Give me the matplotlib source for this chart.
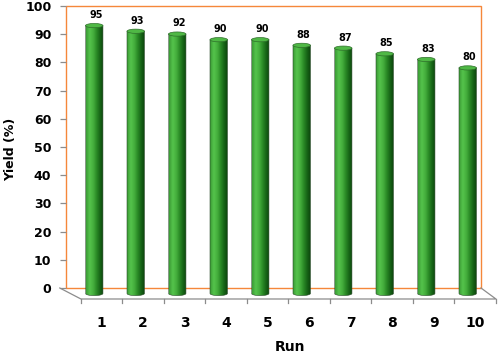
import numpy as np
import matplotlib
matplotlib.use("Agg")
import matplotlib.pyplot as plt
from matplotlib.patches import Rectangle, Ellipse, PathPatch
from matplotlib.path import Path
from matplotlib.colors import LinearSegmentedColormap

runs = [1, 2, 3, 4, 5, 6, 7, 8, 9, 10]
yields = [95, 93, 92, 90, 90, 88, 87, 85, 83, 80]
yticks = [0, 10, 20, 30, 40, 50, 60, 70, 80, 90, 100]

# depth of the 3d floor in data units (x, y) and bar size
depth = (0.36, -3.9)
bw = 0.42
eh = 1.5
ymin = -16

fig = plt.figure(figsize=(4.98, 3.57), dpi=100)
# wall spans 66..481 px horizontally, 6..288 px vertically (0..100)
ppu = 282 / 100
ax = fig.add_axes([66/498, (357 - 288 + ymin*ppu)/357, 415/498, (100 - ymin)*ppu/357])
ax.set_xlim(0.5, 10.5)
ax.set_ylim(ymin, 100)
for s in ax.spines.values():
    s.set_visible(False)

orange = "#f5873a"
grey = "#8c8c8c"

# back wall
ax.add_patch(Rectangle((0.5, 0), 10, 100, fill=False, ec=orange, lw=1.0, clip_on=False, zorder=1))

# floor
fx = [0.5 - 0.15, 0.5 + depth[0], 10.5 + depth[0], 10.5]
fy = [0, depth[1], depth[1], 0]
ax.plot(fx, fy, color=grey, lw=0.9, clip_on=False, zorder=1)
for k in range(11):
    x = 0.5 + k + depth[0]
    ax.plot([x, x], [depth[1], depth[1] - 1.5], color=grey, lw=0.9, clip_on=False, zorder=1)

cmap = LinearSegmentedColormap.from_list("cyl", ["#3a9a34", "#55c44c", "#46b03e", "#2a8a26", "#166316", "#0b420b"])
grad = np.linspace(0, 1, 64).reshape(1, -1)

t = np.linspace(np.pi, 2*np.pi, 30)
for r, v in zip(runs, yields):
    cx = r + depth[0] / 2
    y0 = depth[1] / 2
    y1 = v + depth[1] / 2
    # outline: bottom half-ellipse then straight sides
    xs = list(cx + bw/2*np.cos(t)) + [cx + bw/2, cx - bw/2, cx - bw/2]
    ys = list(y0 + eh/2*np.sin(t)) + [y1, y1, y0]
    path = Path(np.column_stack([xs, ys]))
    outline = PathPatch(path, fc="none", ec="#2b4a2b", lw=0.4, zorder=3)
    ax.add_patch(outline)
    im = ax.imshow(grad, cmap=cmap, aspect="auto", extent=(cx - bw/2, cx + bw/2, y0 - eh, y1),
                   zorder=2, interpolation="bicubic")
    im.set_clip_path(outline)
    ax.add_patch(Ellipse((cx, y1), bw, eh, fc="#4fb845", ec="#2f6f2b", lw=0.5, zorder=4, clip_on=False))
    ax.text(r + 0.22, v + 1.8, str(v), ha="center", va="center", fontsize=7, fontweight="bold", zorder=5)
    ax.text(r + depth[0], -12.4, str(r), ha="center", va="center", fontsize=10, fontweight="bold")

ax.set_xticks([])
ax.set_yticks(yticks)
ax.set_yticklabels([str(v) for v in yticks], fontsize=9, fontweight="bold")
ax.tick_params(axis="y", direction="out", length=4.5, color=grey, width=0.9, pad=6)

ax.set_ylabel("Yield (%)", fontsize=9, fontweight="bold")
ax.yaxis.set_label_coords(-0.68, 49, transform=ax.transData)
ax.set_xlabel("Run", fontsize=10, fontweight="bold")
ax.xaxis.set_label_coords(5.9, -18.6, transform=ax.transData)

fig.savefig("out.png", dpi=100)
